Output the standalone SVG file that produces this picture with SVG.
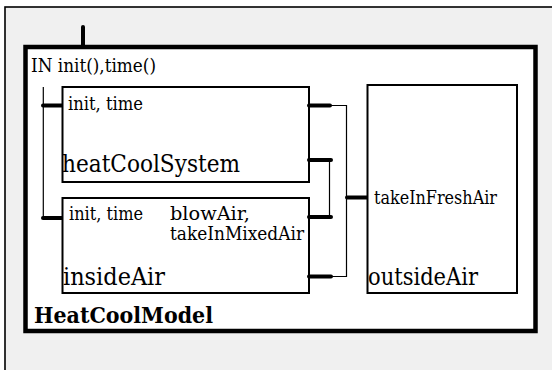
<svg xmlns="http://www.w3.org/2000/svg" width="552" height="370" viewBox="0 0 552 370">
  <style>
    .frame { fill: #f0f0f0; stroke: #000; stroke-width: 1.6; }
    .model { fill: #fff; stroke: #000; stroke-width: 4.5; }
    .block { fill: #fff; stroke: #000; stroke-width: 2; }
    .port { stroke: #000; stroke-width: 4; stroke-linecap: round; fill: none; }
    .wire { stroke: #000; stroke-width: 1.2; fill: none; }
    text { font-family: "DejaVu Serif", "Noto Serif", serif; fill: #000; }
    .lbl { font-size: 18px; }
    .name { font-size: 24px; }
    .title { font-size: 23px; font-weight: bold; }
  </style>

  <!-- enclosing page frame -->
  <rect class="frame" x="5" y="7" width="560" height="380"/>

  <!-- HeatCoolModel -->
  <g id="HeatCoolModel">
    <line class="port" x1="83" y1="27" x2="83" y2="47"/>
    <rect class="model" x="25.5" y="47" width="510" height="284"/>
    <text class="lbl" x="31" y="72" textLength="125" lengthAdjust="spacingAndGlyphs">IN init(),time()</text>
    <text class="title" x="34" y="323" textLength="179" lengthAdjust="spacingAndGlyphs">HeatCoolModel</text>
  </g>

  <!-- connectors -->
  <g id="connectors">
    <polyline class="wire" points="43.3,87 43.3,218"/>
    <polyline class="wire" points="330,105.5 346.5,105.5 346.5,276.5 331,276.5"/>
    <polyline class="wire" points="329.5,160 329.5,217"/>
    <line class="port" x1="43" y1="105.5" x2="62" y2="105.5"/>
    <line class="port" x1="43" y1="218" x2="62" y2="218"/>
    <line class="port" x1="347" y1="197.5" x2="367" y2="197.5"/>
  </g>

  <!-- heatCoolSystem -->
  <g id="heatCoolSystem">
    <rect class="block" x="62.5" y="87" width="246.5" height="95"/>
    <line class="port" x1="309" y1="105.5" x2="330" y2="105.5"/>
    <line class="port" x1="309" y1="160" x2="331" y2="160"/>
    <text class="lbl" x="68" y="110" textLength="75" lengthAdjust="spacingAndGlyphs">init, time</text>
    <text class="name" x="62" y="172" textLength="178" lengthAdjust="spacingAndGlyphs">heatCoolSystem</text>
  </g>

  <!-- insideAir -->
  <g id="insideAir">
    <rect class="block" x="62.5" y="198" width="246.5" height="95"/>
    <line class="port" x1="309" y1="217" x2="331" y2="217"/>
    <line class="port" x1="309" y1="276.5" x2="331" y2="276.5"/>
    <text class="lbl" x="69" y="220" textLength="74" lengthAdjust="spacingAndGlyphs">init, time</text>
    <text class="lbl" x="170" y="220" textLength="80" lengthAdjust="spacingAndGlyphs">blowAir,</text>
    <text class="lbl" x="170" y="240" textLength="134" lengthAdjust="spacingAndGlyphs">takeInMixedAir</text>
    <text class="name" x="63" y="285" textLength="102" lengthAdjust="spacingAndGlyphs">insideAir</text>
  </g>

  <!-- outsideAir -->
  <g id="outsideAir">
    <rect class="block" x="367.5" y="85" width="149.5" height="208"/>
    <text class="lbl" x="374" y="203.5" textLength="123" lengthAdjust="spacingAndGlyphs">takeInFreshAir</text>
    <text class="name" x="368" y="285" textLength="110" lengthAdjust="spacingAndGlyphs">outsideAir</text>
  </g>
</svg>
